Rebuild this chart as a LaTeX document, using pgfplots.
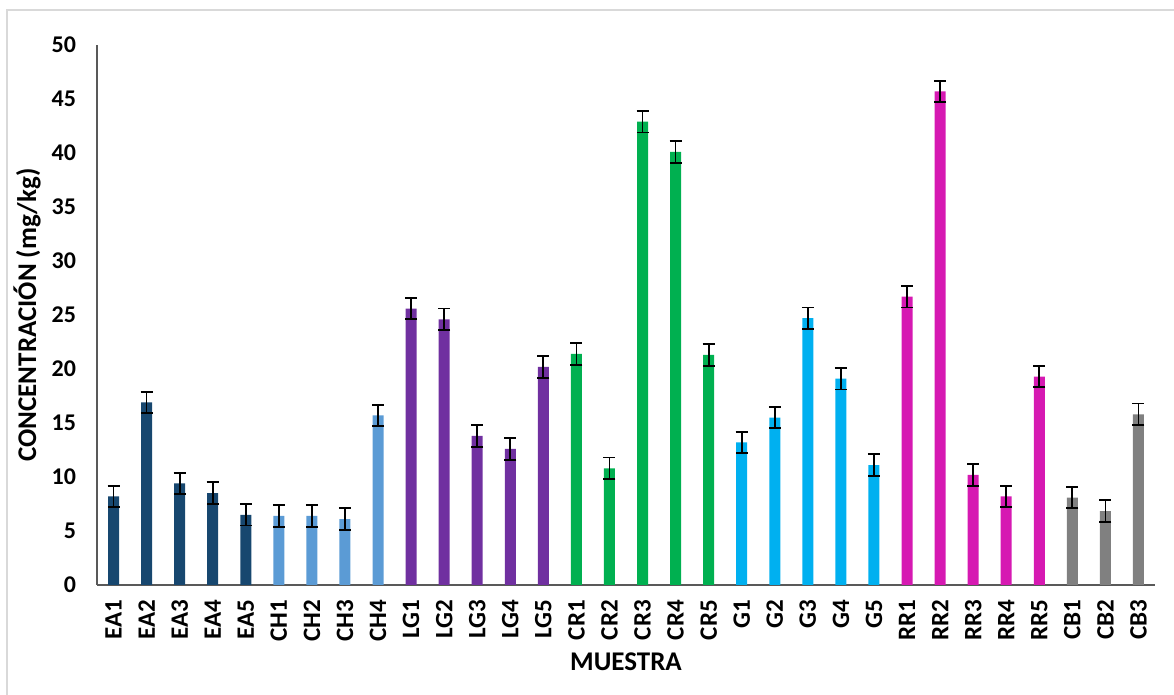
\documentclass[border=0pt]{standalone}
\usepackage{fontspec}
\setmainfont{Carlito}
\usepackage{pgfplots}
\pgfplotsset{compat=1.18}
\definecolor{cEA}{HTML}{17476F}
\definecolor{cCH}{HTML}{5B9BD5}
\definecolor{cLG}{HTML}{7030A0}
\definecolor{cCR}{HTML}{00B050}
\definecolor{cG}{HTML}{00B0F0}
\definecolor{cRR}{HTML}{D619B2}
\definecolor{cCB}{HTML}{808080}
\definecolor{axgray}{HTML}{595959}
\definecolor{bordergray}{HTML}{D9D9D9}
\begin{document}
\begin{tikzpicture}[x=1pt,y=1pt]
\path[use as bounding box] (-48.5,-55) rectangle (538.5,292.5);
\draw[bordergray, line width=0.75pt] (-45,-55) -- (-45,287.5) -- (538.5,287.5);
\begin{axis}[
  at={(0,0)}, anchor=south west,
  scale only axis, width=529pt, height=270pt,
  xmin=-0.5, xmax=31.5, ymin=0, ymax=50,
  ytick={0,5,...,50},
  xtick={0,...,31},
  xticklabels={EA1,EA2,EA3,EA4,EA5,CH1,CH2,CH3,CH4,LG1,LG2,LG3,LG4,LG5,CR1,CR2,CR3,CR4,CR5,G1,G2,G3,G4,G5,RR1,RR2,RR3,RR4,RR5,CB1,CB2,CB3},
  axis lines*=left,
  axis line style={-, draw=axgray, line width=0.8pt},
  major tick length=0pt,
  tick style={draw=none},
  /pgf/number format/assume math mode=true,
  yticklabel style={font=\bfseries\fontsize{12}{14}\selectfont, xshift=-7pt},
  xticklabel style={font=\bfseries\fontsize{12.5}{14}\selectfont, rotate=90, anchor=east, xshift=-4pt},
  ylabel={CONCENTRACIÓN (mg/kg)},
  xlabel={MUESTRA},
  ylabel style={font=\bfseries\fontsize{13.5}{16}\selectfont, at={([xshift=-35pt]axis description cs:0,0.5)}, anchor=center},
  xlabel style={font=\bfseries\fontsize{13.5}{16}\selectfont, at={([yshift=-38.5pt]axis description cs:0.5,0)}, anchor=center},
  ybar, bar width=5.5pt,
  every axis plot/.append style={bar shift=0pt, draw=none,
    error bars/y dir=both, error bars/y explicit,
    error bars/error bar style={black, line width=0.9pt},
    error bars/error mark options={rotate=90, mark size=3pt, line width=0.9pt, black}},
]
\addplot[fill=cEA] coordinates {(0,8.2) +- (0,1.0) (1,16.9) +- (0,1.0) (2,9.4) +- (0,1.0) (3,8.5) +- (0,1.0) (4,6.5) +- (0,1.0)};
\addplot[fill=cCH] coordinates {(5,6.4) +- (0,1.0) (6,6.4) +- (0,1.0) (7,6.1) +- (0,1.0) (8,15.7) +- (0,1.0)};
\addplot[fill=cLG] coordinates {(9,25.6) +- (0,1.0) (10,24.6) +- (0,1.0) (11,13.8) +- (0,1.0) (12,12.6) +- (0,1.0) (13,20.2) +- (0,1.0)};
\addplot[fill=cCR] coordinates {(14,21.4) +- (0,1.0) (15,10.8) +- (0,1.0) (16,42.9) +- (0,1.0) (17,40.1) +- (0,1.0) (18,21.3) +- (0,1.0)};
\addplot[fill=cG] coordinates {(19,13.2) +- (0,1.0) (20,15.5) +- (0,1.0) (21,24.7) +- (0,1.0) (22,19.1) +- (0,1.0) (23,11.1) +- (0,1.0)};
\addplot[fill=cRR] coordinates {(24,26.7) +- (0,1.0) (25,45.7) +- (0,1.0) (26,10.2) +- (0,1.0) (27,8.2) +- (0,1.0) (28,19.3) +- (0,1.0)};
\addplot[fill=cCB] coordinates {(29,8.1) +- (0,1.0) (30,6.85) +- (0,1.0) (31,15.8) +- (0,1.0)};
\end{axis}
\end{tikzpicture}
\end{document}
